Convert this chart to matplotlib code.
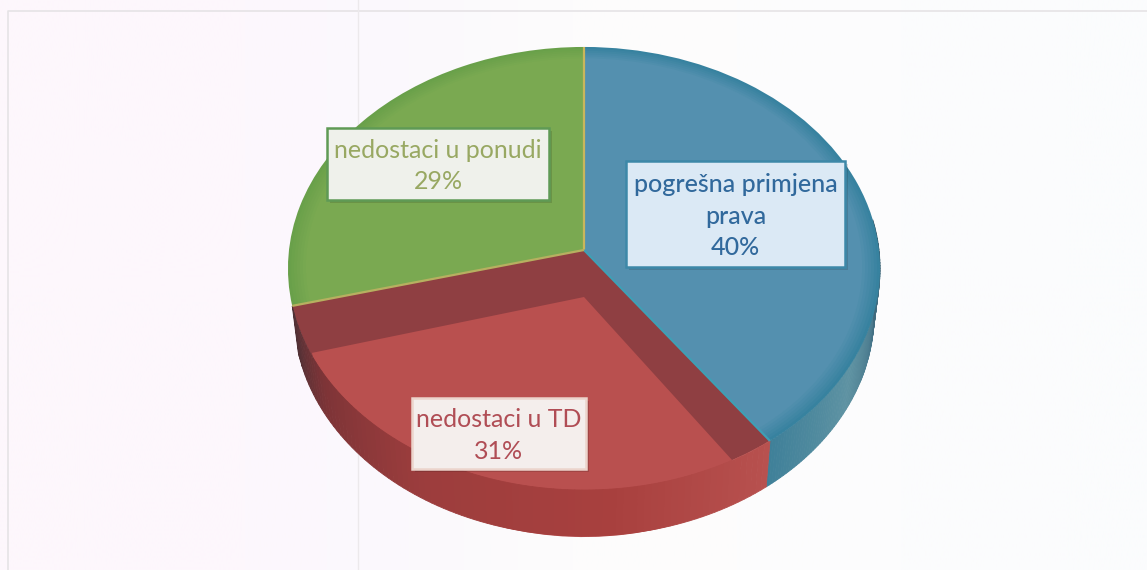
import numpy as np
import matplotlib
matplotlib.use('Agg')
import matplotlib.pyplot as plt
from matplotlib.colors import to_rgb
from matplotlib.patches import Rectangle
from matplotlib.transforms import Transform

# chart data
labels = ['pogrešna primjena\nprava', 'nedostaci u TD', 'nedostaci u ponudi']
shares = [40, 31, 29]
face_colors = ['#5490af', '#8f3f42', '#7aa951']
rim_colors = ['#37829f', '#8f3f42', '#69a04a']
text_colors = ['#31699c', '#b04d55', '#98a862']
box_fills = ['#dbe9f5', '#f4eeec', '#eff1eb']
box_edges = ['#3d88a8', '#ecd4cc', '#5f9a55']
text_weights = ['medium', 'normal', 'normal']


class Tilt(Transform):
    # unit circle seen in perspective, goes to picture pixels
    input_dims = 2
    output_dims = 2
    is_separable = False

    def __init__(self, dy=0.0, c=295.0):
        super().__init__()
        self.dy = dy
        self.c = c

    def transform_non_affine(self, values):
        values = np.asarray(values, dtype=float)
        w = 1 + 0.0835 * values[:, 1]
        return np.column_stack([584 + self.c * values[:, 0] / w,
                                250 - 220 * values[:, 1] / w + self.dy])


fig = plt.figure(figsize=(11.47, 5.70), dpi=100, facecolor='#fdfbfd')
ax = fig.add_axes([0, 0, 1, 1])


def pie_layer(radius=1.0, colors=face_colors, dy=0.0, c=295.0):
    wedges = ax.pie(shares, colors=colors, startangle=90, counterclock=False,
                    radius=radius)[0]
    for w in wedges:
        w.set_transform(Tilt(dy, c) + ax.transData)
        w.set_linewidth(0)
    return wedges


def side(start, end, anchors, cols, z):
    # the wall of the disc, thin strips along the arc
    top = Tilt(0)
    bottom = Tilt(46, 289)
    steps = np.linspace(start, end, 90)
    rgb = np.array([to_rgb(c) for c in cols])
    for a, b in zip(steps[:-1], steps[1:]):
        pts = np.radians([a, b])
        ring = np.column_stack([np.cos(pts), np.sin(pts)])
        quad = np.vstack([top.transform_non_affine(ring),
                          bottom.transform_non_affine(ring)[::-1]])
        mid = (a + b) / 2
        col = [np.interp(mid, anchors, rgb[:, i]) for i in range(3)]
        ax.fill(quad[:, 0], quad[:, 1], color=col, lw=0.6, zorder=z)


# angles of the slice borders, clockwise from the top
blue_end = 90 - 360 * shares[0] / sum(shares)
red_end = blue_end - 360 * shares[1] / sum(shares)

# top of the disc, darker towards the rim
rim_rgb = np.array([to_rgb(c) for c in rim_colors])
face_rgb = np.array([to_rgb(c) for c in face_colors])
for k, r in enumerate(np.linspace(1.0, 0.94, 7)):
    mix = rim_rgb + (face_rgb - rim_rgb) * k / 6
    for w in pie_layer(r, [tuple(m) for m in mix]):
        w.set_zorder(2)

# red slice is sunk: its lit part sits lower, the wall below covers what hangs over
red_lit = pie_layer(1.0, ['none', '#b9504f', 'none'], dy=47, c=275)[1]
red_lit.set_zorder(4)

side(blue_end, 8, [blue_end, -30, -12, 8], ['#3f8099', '#5f93a3', '#47768a', '#33505f'], 1.5)
side(red_end, blue_end, [red_end, red_end + 18, red_end + 45, red_end + 80, blue_end],
     ['#4c3035', '#7d3437', '#9c3d3d', '#a8403e', '#b8514f'], 4.5)

# light seams between the slices
seam = Tilt(0)
for ang, col in [(90, '#c9b65c'), (blue_end, '#3f9fb5'), (red_end, '#b7b060')]:
    a = np.radians(ang)
    pts = seam.transform_non_affine(np.array([[0, 0], [np.cos(a), np.sin(a)]]))
    ax.plot(pts[:, 0], pts[:, 1], color=col, lw=1.6, zorder=5, solid_capstyle='butt')

# paper and scan lines
paper = np.array([[to_rgb(c) for c in ['#fdf7fc', '#fdf7fd', '#fbf9fd', '#fdfcfc', '#fdfdfd', '#fcfcfd', '#fbfcfd']]])
ax.imshow(paper, extent=[0, 1147, 570, 0], aspect='auto', interpolation='bilinear', zorder=0)
ax.set_xlim(0, 1147)
ax.set_ylim(570, 0)
ax.set_aspect('auto')
ax.axis('off')
ax.plot([8, 8, 1147], [570, 11, 11], color='#e6e3e6', lw=1.2, zorder=0.5)
ax.plot([358, 358], [0, 570], color='#ece9ec', lw=1, zorder=0.5)

# data labels
boxes = [(626, 161, 219, 106), (412, 398, 174, 71), (327, 128, 222, 72)]
for i, (x, y, w, h) in enumerate(boxes):
    ax.add_patch(Rectangle((x + 3, y + 3), w, h, fc='#000000', alpha=0.13, lw=0, zorder=6))
    ax.add_patch(Rectangle((x, y), w, h, fc=box_fills[i], ec=box_edges[i], lw=1.8, zorder=7))
    ax.text(x + w / 2, y + h / 2 + 2, f'{labels[i]}\n{shares[i]}%', color=text_colors[i],
            family='Lato', fontsize=18, weight=text_weights[i], ha='center', va='center',
            linespacing=1.46, zorder=8)

fig.savefig('out.png', dpi=100)
